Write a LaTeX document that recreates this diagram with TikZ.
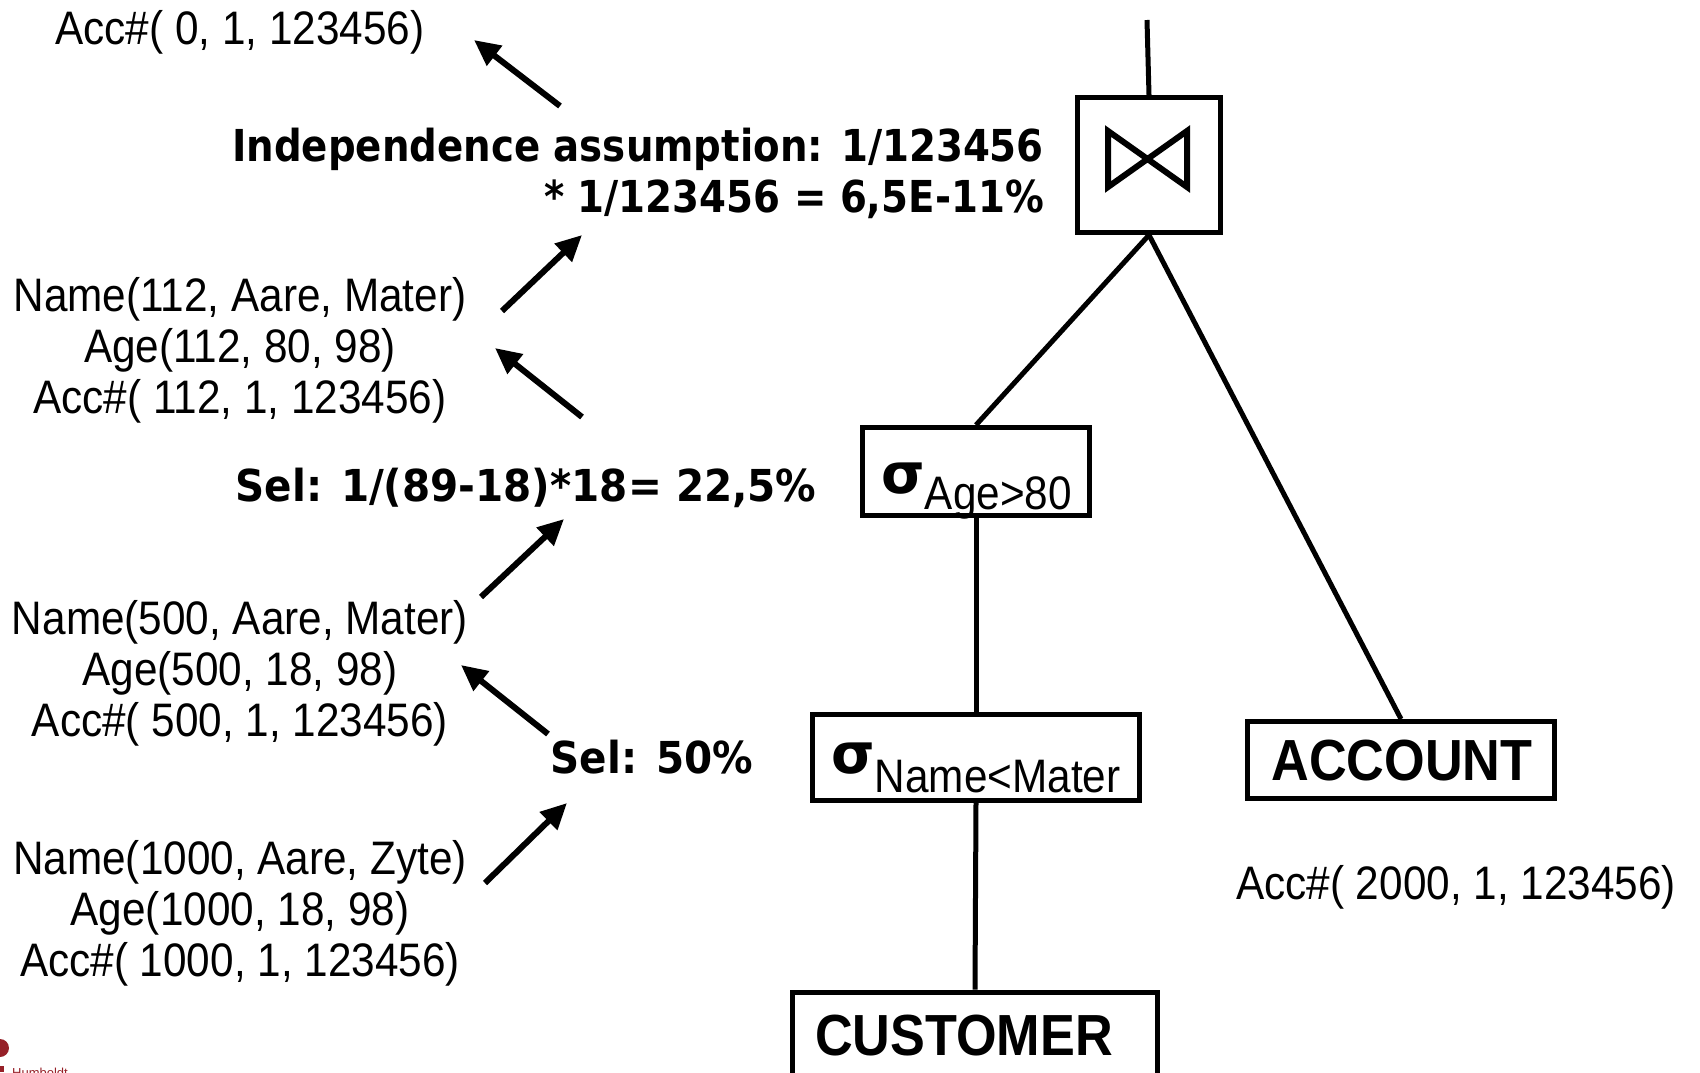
\documentclass[tikz,border=0pt]{standalone}
\usepackage{fontspec}
\setmainfont{Liberation Sans}
\newfontfamily\regf{Liberation Sans}[FakeStretch=0.9]
\newfontfamily\boldf{DejaVu Sans}[FakeStretch=0.88]
\newfontfamily\boldwf{DejaVu Sans}[FakeStretch=0.92]
\newfontfamily\headf{Liberation Sans}[FakeStretch=0.9]
\newfontfamily\sigf{DejaVu Sans}
\usetikzlibrary{arrows.meta}
\definecolor{humred}{RGB}{150,32,40}

\tikzset{
  opbox/.style={draw, line width=5pt, rectangle, inner sep=0pt, miter limit=10},
  conn/.style={line width=5pt},
  note/.style={inner sep=0pt, font=\regf\fontsize{47}{51}\selectfont, align=center},
  calc/.style={inner sep=0pt, font=\boldf\bfseries\fontsize{44}{51}\selectfont},
  calcw/.style={inner sep=0pt, font=\boldwf\bfseries\fontsize{44}{51}\selectfont},
  relname/.style={inner sep=0pt, font=\headf\bfseries\fontsize{58}{60}\selectfont},
  opname/.style={inner sep=0pt},
  flow/.style={line width=6pt, -{Triangle[length=26pt,width=24pt]}},
}

% selection symbol with its predicate as a lowered index
\newcommand{\sigmasub}[2]{{\sigf\bfseries\fontsize{56}{60}\selectfont σ}\raisebox{-#2pt}{\regf\fontsize{47}{51}\selectfont #1}}

\begin{document}
\begin{tikzpicture}[x=1pt,y=-1pt]
\useasboundingbox (0,0) rectangle (1700,1072);

% operator tree
\coordinate (top) at (1147,20);
\node[opbox, minimum width=143, minimum height=135] (join) at (1149,165) {};
\draw[line width=6pt, line join=miter] (1108,131) -- (1108,187) -- (1187,131) -- (1187,187) -- cycle;

\node[opbox, minimum width=227, minimum height=88] (sa) at (976,471.5) {};
\node[opname, anchor=base west] (salab) at (881,493) {\sigmasub{Age>80}{16}};

\node[opbox, minimum width=327, minimum height=86] (sn) at (976,757.5) {};
\node[opname, anchor=base west] (snlab) at (831,773) {\sigmasub{Name<Mater}{19}};

\node[opbox, minimum width=365, minimum height=120] (cust) at (975,1052) {};
\node[relname, anchor=base west] (custlab) at (815,1055) {CUSTOMER};

\node[opbox, minimum width=307, minimum height=77] (acc) at (1401,760) {};
\node[relname, anchor=base] (acclab) at (1402,780) {ACCOUNT};

\draw[conn] (top) -- (join.north);
\draw[conn] (join.south) -- (sa.north);
\draw[conn] (join.south) -- (acc.north);
\draw[conn] (sa.south) -- (sn.north);
\draw[conn] (sn.south) -- (cust.north);

% statistics of the intermediate results (base = last line)
\node[note, anchor=base] (acc0) at (240,44) {Acc\#( 0, 1, 123456)};
\node[note, anchor=base] (r112) at (240,413) {Name(112, Aare, Mater)\\Age(112, 80, 98)\\Acc\#( 112, 1, 123456)};
\node[note, anchor=base] (r500) at (240,736) {Name(500, Aare, Mater)\\Age(500, 18, 98)\\Acc\#( 500, 1, 123456)};
\node[note, anchor=base] (r1000) at (240,976) {Name(1000, Aare, Zyte)\\Age(1000, 18, 98)\\Acc\#( 1000, 1, 123456)};
\node[note, anchor=base] (acc2000) at (1456,899) {Acc\#( 2000, 1, 123456)};

% selectivity estimates
\node[calc, anchor=base east, align=right] (indep) at (1044,212) {Independence assumption: 1/123456\\* 1/123456 = 6,5E-11\%};
\node[calcw, anchor=base] (selage) at (526,501) {Sel: 1/(89-18)*18= 22,5\%};
\node[calcw, anchor=base] (selname) at (652,773) {Sel: 50\%};

% estimation flow
\coordinate (a1s) at (560,106);  \coordinate (a1e) at (474,40);
\coordinate (a2s) at (502,311);  \coordinate (a2e) at (582,235);
\coordinate (a3s) at (582,417);  \coordinate (a3e) at (495,348);
\coordinate (a4s) at (481,597);  \coordinate (a4e) at (564,519);
\coordinate (a5s) at (548,734);  \coordinate (a5e) at (461,665);
\coordinate (a6s) at (485,883);  \coordinate (a6e) at (567,803);
\draw[flow] (a1s) -- (a1e);
\draw[flow] (a2s) -- (a2e);
\draw[flow] (a3s) -- (a3e);
\draw[flow] (a4s) -- (a4e);
\draw[flow] (a5s) -- (a5e);
\draw[flow] (a6s) -- (a6e);

% corner logo
\fill[humred] (0,1048) circle (9);
\fill[humred] (0,1066) rectangle (4,1072);
\node[inner sep=0pt, anchor=base west, text=humred, font=\fontsize{13}{14}\selectfont] (logo) at (12,1077) {Humboldt};
\end{tikzpicture}
\end{document}
